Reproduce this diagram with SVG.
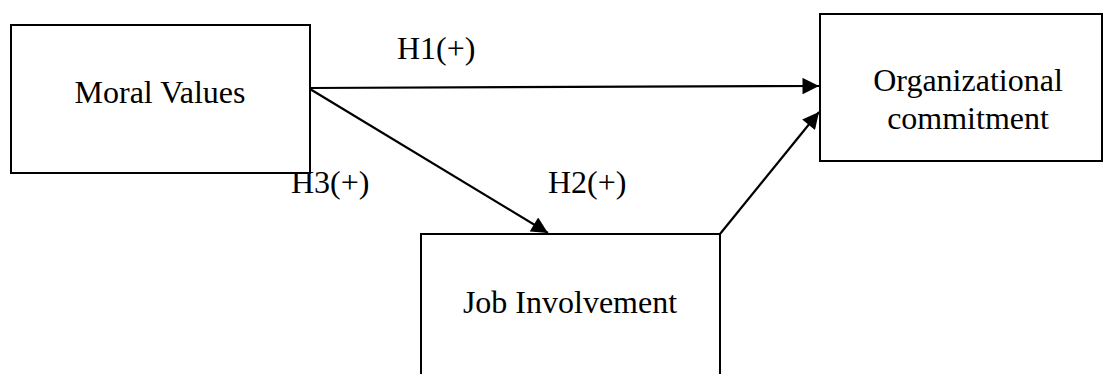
<svg xmlns="http://www.w3.org/2000/svg" width="1104" height="374" viewBox="0 0 1104 374">
<style>
.box{fill:#fff;stroke:#000;stroke-width:2}
.t{font-family:"Liberation Serif","Times New Roman",serif;font-size:32px;fill:#000;text-anchor:middle}
.l{font-family:"Liberation Serif","Times New Roman",serif;font-size:32px;fill:#000}
.c{stroke:#000;stroke-width:2.2;fill:none;marker-end:url(#ah)}
</style>
<defs>
<marker id="ah" viewBox="0 0 10 10" refX="10" refY="5" markerWidth="8" markerHeight="7.5" markerUnits="strokeWidth" orient="auto">
<path d="M0,0 L10,5 L0,10 Z" fill="#000"/>
</marker>
</defs>
<rect width="1104" height="374" fill="#fff"/>
<g id="moral-values"><rect class="box" x="11" y="25" width="299" height="148"/><text class="t" x="160" y="103">Moral Values</text></g>
<g id="organizational-commitment"><rect class="box" x="820" y="14" width="282" height="147"/><text class="t" x="968" y="91">Organizational</text><text class="t" x="968" y="129">commitment</text></g>
<g id="job-involvement"><rect class="box" x="421" y="234" width="299" height="150"/><text class="t" x="570" y="313">Job Involvement</text></g>
<g id="connectors">
<line class="c" x1="310" y1="88" x2="819" y2="86"/>
<line class="c" x1="310" y1="89" x2="548" y2="233"/>
<line class="c" x1="720" y1="234" x2="819" y2="112"/>
</g>
<g id="labels">
<text class="l" x="397" y="59">H1(+)</text>
<text class="l" x="291" y="193">H3(+)</text>
<text class="l" x="548" y="193">H2(+)</text>
</g>
</svg>
